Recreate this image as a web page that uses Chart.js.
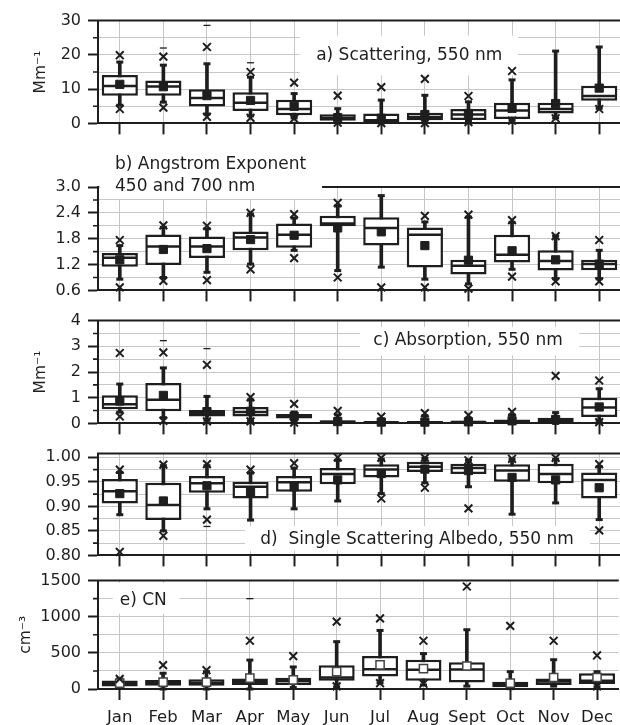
<!DOCTYPE html>
<html><head><meta charset="utf-8">
<script src="https://cdn.jsdelivr.net/npm/chart.js@4.4.1/dist/chart.umd.min.js"></script>
<style>
html,body{margin:0;padding:0;background:#fff;width:620px;height:725px;overflow:hidden;position:relative}
.p{position:absolute;left:0;width:621px}
canvas{display:block}
</style></head><body>
<div class="p" style="top:4px"><canvas id="pa" width="621" height="136"></canvas></div>
<div class="p" style="top:137px"><canvas id="pb" width="621" height="170"></canvas></div>
<div class="p" style="top:304px"><canvas id="pc" width="621" height="136"></canvas></div>
<div class="p" style="top:437px"><canvas id="pd" width="621" height="135"></canvas></div>
<div class="p" style="top:564px"><canvas id="pe" width="621" height="161"></canvas></div>
<script>
const months = ["Jan","Feb","Mar","Apr","May","Jun","Jul","Aug","Sept","Oct","Nov","Dec"];

// a) Scattering, 550 nm (Mm-1)
const scatQ1   = [8.1, 8.1, 4.9, 3.6, 2.4, 0.8, 0.3, 0.9, 1.0, 1.3, 2.9, 6.6];
const scatMed  = [10.9, 10.8, 7.4, 6.0, 4.2, 1.6, 0.9, 1.9, 2.6, 3.8, 4.2, 8.0];
const scatQ3   = [14.1, 12.5, 10.0, 9.1, 6.9, 2.7, 2.9, 3.1, 4.2, 6.0, 6.0, 11.0];
const scatMean = [11.4, 10.7, 8.1, 6.7, 5.0, 1.7, 1.5, 2.6, 2.9, 4.4, 5.8, 10.3];
const scatLo   = [5.3, 6.2, 2.7, 2.2, 1.6, 0.3, 0.1, 0.3, 0.6, 0.9, 1.6, 4.4];
const scatHi   = [17.9, 17.0, 17.4, 13.5, 8.7, 4.3, 6.8, 8.2, 6.3, 12.7, 21.1, 22.3];
const scatXLo  = [4.2, 4.6, 1.9, 1.6, 1.4, 0.2, 0.1, 0.1, 0.4, 0.8, 1.5, 4.2];
const scatXHi  = [19.9, 19.5, 22.3, 15.0, 11.9, 8.1, 10.6, 13.0, 8.0, 15.3, null, null];
const scatExt  = [null, 22.0, 28.6, 17.7, null, null, null, null, null, null, null, null];

// b) Angstrom Exponent 450 and 700 nm
const angQ1   = [1.15, 1.19, 1.35, 1.53, 1.59, 2.09, 1.64, 1.13, 0.97, 1.25, 1.06, 1.07];
const angMed  = [1.36, 1.62, 1.62, 1.83, 1.89, 2.15, 2.05, 1.89, 1.17, 1.43, 1.28, 1.21];
const angQ3   = [1.47, 1.90, 1.85, 1.97, 2.15, 2.33, 2.30, 2.06, 1.31, 1.89, 1.53, 1.31];
const angMean = [1.31, 1.55, 1.57, 1.78, 1.88, 2.05, 1.96, 1.64, 1.30, 1.52, 1.31, 1.21];
const angLo   = [0.86, 0.90, 1.02, 1.21, 1.53, 1.06, 1.14, 0.86, 0.75, 1.09, 0.87, 0.87];
const angHi   = [1.64, 2.06, 2.03, 2.37, 2.28, 2.56, 2.80, 2.19, 2.30, 2.18, 1.86, 1.53];
const angXLo  = [0.67, 0.82, 0.84, 1.09, 1.35, 0.90, 0.67, 0.67, 0.64, 0.92, 0.81, 0.81];
const angXHi  = [1.77, 2.11, 2.10, 2.40, 2.37, 2.63, null, 2.33, 2.36, 2.23, 1.86, 1.77];
const angExt  = [null, null, null, null, null, null, null, null, null, null, null, null];

// c) Absorption, 550 nm (Mm-1)
const absQ1   = [0.55, 0.47, 0.27, 0.27, 0.19, 0.00, 0.00, 0.00, 0.00, 0.02, 0.03, 0.25];
const absMed  = [0.75, 0.92, 0.40, 0.44, 0.28, 0.05, 0.04, 0.04, 0.05, 0.08, 0.12, 0.62];
const absQ3   = [1.10, 1.57, 0.52, 0.64, 0.37, 0.12, 0.08, 0.09, 0.10, 0.15, 0.22, 1.00];
const absMean = [0.87, 1.09, 0.46, 0.47, 0.28, 0.07, 0.05, 0.05, 0.06, 0.10, 0.15, 0.64];
const absLo   = [0.44, 0.22, 0.12, 0.10, 0.06, 0.00, 0.00, 0.00, 0.00, 0.00, 0.00, 0.10];
const absHi   = [1.53, 2.16, 1.05, 0.91, 0.44, 0.33, 0.17, 0.30, 0.20, 0.33, 0.42, 1.35];
const absXLo  = [0.27, 0.10, 0.08, 0.08, 0.03, null, null, null, null, null, null, 0.05];
const absXHi  = [2.74, 2.76, 2.28, 1.02, 0.76, 0.49, 0.26, 0.40, 0.32, 0.45, 1.85, 1.67];
const absExt  = [null, 3.22, 2.91, null, null, null, null, null, null, null, null, null];

// d) Single Scattering Albedo, 550 nm
const ssaQ1   = [0.906, 0.872, 0.928, 0.916, 0.930, 0.945, 0.959, 0.970, 0.966, 0.950, 0.947, 0.916];
const ssaMed  = [0.931, 0.903, 0.947, 0.940, 0.949, 0.966, 0.975, 0.981, 0.978, 0.973, 0.966, 0.954];
const ssaQ3   = [0.956, 0.948, 0.962, 0.950, 0.962, 0.978, 0.986, 0.991, 0.987, 0.986, 0.987, 0.969];
const ssaMean = [0.926, 0.911, 0.942, 0.929, 0.940, 0.954, 0.967, 0.976, 0.973, 0.959, 0.954, 0.938];
const ssaLo   = [0.883, 0.850, 0.895, 0.872, 0.895, 0.911, 0.926, 0.948, 0.940, 0.884, 0.907, 0.873];
const ssaHi   = [0.969, 0.983, 0.983, 0.968, 0.978, 0.994, 0.996, 0.998, 0.994, 0.996, 0.996, 0.981];
const ssaXLo  = [0.807, 0.840, 0.873, null, null, null, 0.916, 0.938, 0.896, null, null, 0.851];
const ssaXHi  = [0.975, 0.985, 0.986, 0.975, 0.988, 1.000, 0.999, 0.999, 0.994, 0.997, 0.999, 0.986];
const ssaExt  = [null, null, 0.859, null, null, null, null, null, null, null, null, null];

// e) CN (cm-3)
const cnQ1   = [36, 45, 45, 55, 55, 114, 173, 114, 91, 23, 55, 68];
const cnMed  = [75, 88, 85, 100, 110, 159, 275, 265, 270, 55, 105, 114];
const cnQ3   = [118, 125, 135, 145, 155, 327, 455, 405, 370, 100, 145, 218];
const cnMean = [80, 95, 95, 150, 125, 241, 335, 282, 318, 82, 159, 159];
const cnLo   = [15, 0, 0, 0, 20, 30, 85, 55, 40, 5, 40, 30];
const cnHi   = [140, 218, 240, 400, 305, 655, 810, 490, 820, 240, 405, 240];
const cnXLo  = [null, null, null, null, null, 36, 80, 73, null, null, null, 36];
const cnXHi  = [140, 331, 260, 668, 455, 932, 977, 668, 1418, 873, 668, 464];
const cnExt  = [null, null, null, 1250, null, null, null, null, null, null, null, null];

const INK = '#1e1e1e', GRID = '#c6c6c6', FONT = 'DejaVu Sans';
Chart.defaults.font.family = FONT;
Chart.defaults.color = INK;

const decor = {
  id: 'decor',
  beforeDatasetsDraw(chart, args, o) {
    const {ctx, chartArea: a} = chart; const x = chart.scales.x, y = chart.scales.y;
    ctx.save();
    ctx.strokeStyle = INK; ctx.lineWidth = 2;
    ctx.beginPath(); ctx.moveTo(a.left - 1, a.top); ctx.lineTo(a.right, a.top); ctx.stroke();
    // minor ticks
    ctx.lineWidth = 1.6; ctx.beginPath();
    y.ticks.forEach(t => {
      const r = (t.value - o.base) / o.major;
      if (Math.abs(r - Math.round(r)) > 1e-6) { const py = y.getPixelForValue(t.value); ctx.moveTo(a.left - 5, py); ctx.lineTo(a.left, py); }
    });
    ctx.stroke();
    (o.boxes || []).forEach(b => {
      const x0 = x.getPixelForValue(b.x0), x1 = x.getPixelForValue(b.x1);
      const y0 = y.getPixelForValue(b.y0), y1 = y.getPixelForValue(b.y1);
      ctx.fillStyle = '#fff';
      ctx.fillRect(Math.min(x0, x1), Math.min(y0, y1), Math.abs(x1 - x0), Math.abs(y1 - y0));
    });
    ctx.fillStyle = INK; ctx.font = '17px "' + FONT + '"'; ctx.textBaseline = 'middle';
    (o.texts || []).forEach(t => {
      ctx.textAlign = t.align || 'center';
      ctx.fillText(t.text, x.getPixelForValue(t.x), y.getPixelForValue(t.y));
    });
    ctx.restore();
  }
};

function boxPanel(id, d) {
  const isMajor = v => { const r = (v - d.min) / d.major; return Math.abs(r - Math.round(r)) < 1e-6; };
  const pt = (data, style, r, bw, fill, border, order) => ({
    type: 'line', data, showLine: false, pointStyle: style, pointRadius: r, pointHoverRadius: r,
    pointBorderWidth: bw, pointBackgroundColor: fill, pointBorderColor: border, order, clip: false
  });
  new Chart(document.getElementById(id), {
    type: 'bar',
    data: {
      labels: months,
      datasets: [
        { data: d.lo.map((v, i) => [v, d.hi[i]]), backgroundColor: INK, borderWidth: 0, barThickness: 3, grouped: false, order: 9, clip: false },
        { data: d.q1.map((v, i) => [v, d.q3[i]]), backgroundColor: '#fff', borderColor: INK, borderWidth: 2.5, borderSkipped: false,
          barPercentage: 0.83, categoryPercentage: 1, grouped: false, order: 8, clip: false },
        pt(d.med, 'line', 17, 2.5, INK, INK, 7),
        pt(d.lo, 'line', 3.5, 3, INK, INK, 6),
        pt(d.hi, 'line', 3.5, 3, INK, INK, 6),
        pt(d.mean, 'rect', 5.8, d.openMean ? 1.5 : 1, d.openMean ? '#fff' : INK, d.openMean ? '#444' : INK, 2),
        pt(d.xlo, 'crossRot', 5.5, 2, INK, INK, 1),
        pt(d.xhi, 'crossRot', 5.5, 2, INK, INK, 1),
        pt(d.ext, 'line', 3.5, 1.3, INK, INK, 1)
      ]
    },
    options: {
      responsive: false, maintainAspectRatio: false, animation: false, devicePixelRatio: 1,
      layout: { padding: { top: d.padTop, left: 0, right: 0, bottom: 0 }, autoPadding: false },
      plugins: { legend: { display: false }, tooltip: { enabled: false },
        decor: { base: d.min, major: d.major, boxes: d.boxes, texts: d.texts } },
      scales: {
        x: {
          type: 'category', offset: true,
          grid: { offset: false, color: GRID, lineWidth: 1, drawTicks: true, tickLength: 11, tickColor: INK, tickWidth: 2 },
          border: { color: INK, width: 2 },
          ticks: { display: !!d.showMonths, padding: 8, autoSkip: false, maxRotation: 0, color: INK, font: { size: 16.5 } },
          afterFit: s => { s.height = d.showMonths ? 36 : 11; }
        },
        y: {
          min: d.min, max: d.max,
          ticks: { stepSize: d.step, autoSkip: false, padding: 7, color: INK, font: { size: 16 }, includeBounds: false,
            callback: v => isMajor(v) ? v.toFixed(d.dec) : '' },
          grid: { color: GRID, lineWidth: 1, tickLength: 10, tickWidth: 2,
            tickColor: c => (c.tick && isMajor(c.tick.value)) ? INK : 'rgba(0,0,0,0)' },
          border: { color: INK, width: 2 },
          title: d.yTitle ? { display: true, text: d.yTitle, color: INK, font: { size: 15.5 }, padding: { top: d.titlePad, bottom: 0 } } : { display: false },
          afterFit: s => { s.width = 98; }
        }
      }
    },
    plugins: [decor]
  });
}

boxPanel('pa', { q1: scatQ1, med: scatMed, q3: scatQ3, mean: scatMean, lo: scatLo, hi: scatHi, xlo: scatXLo, xhi: scatXHi, ext: scatExt,
  min: 0, max: 30, step: 5, major: 10, dec: 0, padTop: 15, yTitle: 'Mm\u207B\u00B9', titlePad: 32,
  boxes: [{ x0: 4.13, x1: 9.14, y0: 25.6, y1: 14.0 }], texts: [{ text: 'a) Scattering, 550 nm', x: 6.64, y: 19.7 }] });

boxPanel('pb', { q1: angQ1, med: angMed, q3: angQ3, mean: angMean, lo: angLo, hi: angHi, xlo: angXLo, xhi: angXHi, ext: angExt,
  min: 0.6, max: 3.0, step: 0.3, major: 0.6, dec: 1, padTop: 50,
  boxes: [{ x0: -0.47, x1: 4.64, y0: 4.4, y1: 2.72 }],
  texts: [{ text: 'b) Angstrom Exponent', x: -0.11, y: 3.53, align: 'left' }, { text: '450 and 700 nm', x: -0.11, y: 3.01, align: 'left' }] });

boxPanel('pc', { q1: absQ1, med: absMed, q3: absQ3, mean: absMean, lo: absLo, hi: absHi, xlo: absXLo, xhi: absXHi, ext: absExt,
  min: 0, max: 4, step: 0.5, major: 1, dec: 0, padTop: 15, yTitle: 'Mm\u207B\u00B9', titlePad: 32,
  boxes: [{ x0: 5.51, x1: 10.54, y0: 3.75, y1: 2.65 }], texts: [{ text: 'c) Absorption, 550 nm', x: 7.99, y: 3.22 }] });

boxPanel('pd', { q1: ssaQ1, med: ssaMed, q3: ssaQ3, mean: ssaMean, lo: ssaLo, hi: ssaHi, xlo: ssaXLo, xhi: ssaXHi, ext: ssaExt,
  min: 0.8, max: 1.0076, step: 0.025, major: 0.05, dec: 2, padTop: 15,
  boxes: [{ x0: 2.87, x1: 10.79, y0: 0.8595, y1: 0.8095 }], texts: [{ text: 'd)  Single Scattering Albedo, 550 nm', x: 6.82, y: 0.832 }] });

boxPanel('pe', { q1: cnQ1, med: cnMed, q3: cnQ3, mean: cnMean, lo: cnLo, hi: cnHi, xlo: cnXLo, xhi: cnXHi, ext: cnExt, openMean: true,
  min: 0, max: 1500, step: 250, major: 500, dec: 0, padTop: 15, yTitle: 'cm\u207B\u00B3', titlePad: 17, showMonths: true,
  boxes: [{ x0: -0.16, x1: 1.38, y0: 1470, y1: 1040 }], texts: [{ text: 'e) CN', x: 0.0, y: 1227, align: 'left' }] });
</script>
</body></html>
